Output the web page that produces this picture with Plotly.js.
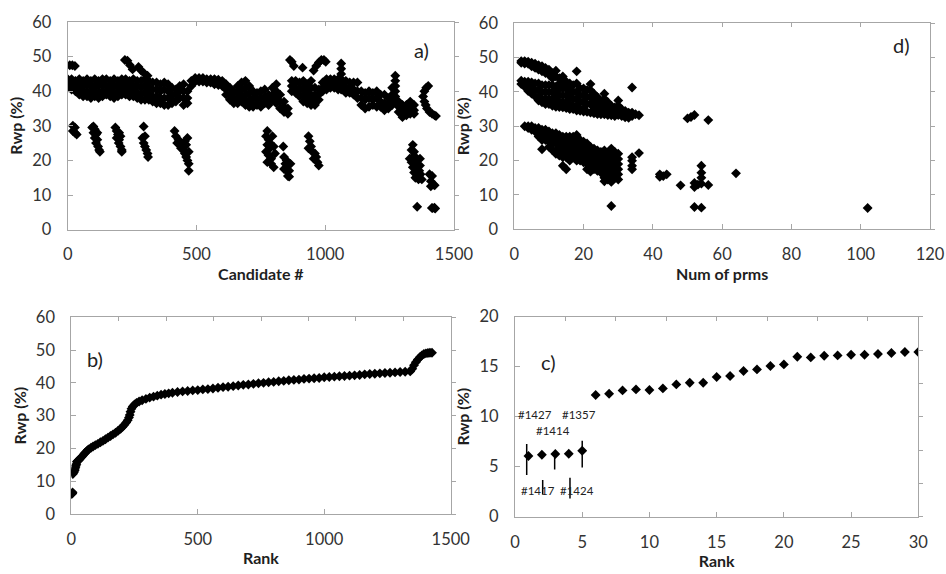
<!DOCTYPE html>
<html><head><meta charset="utf-8">
<script src="https://cdn.plot.ly/plotly-3.0.1.min.js"></script>
<style>html,body{margin:0;padding:0;background:#fff;}#chart{width:946px;height:574px;}</style>
</head><body><div id="chart"></div>
<script>
// ---------- DATA ----------
// Panel a): Rwp (%) per candidate #, grouped by candidate column: [candidate, [Rwp values]]
const candidateColsA = [
 [0,[43.5,42,41]],[8,[47.5]],[15,[43.5,42,40.5]],[18,[47.5]],[28,[47.3]],[30,[43,41.5,40]],
 [45,[43.5,42,40.5,39]],[60,[43,41.5,40,38.5]],[75,[43.5,42,40,38.5]],[90,[43,41.5,39.5,38]],
 [105,[43.5,41.5,40,38.5]],[120,[43,41.5,39.5,38]],[135,[43.5,42,40,38.5]],[150,[43.5,41.5,40,39]],
 [165,[43,41.5,40,38.5]],[180,[43.5,41.5,39.5,38]],[195,[43,41.5,40,38.5]],[210,[43.5,42,40.5,39]],
 [222,[49]],[225,[43.5,42,40.5,39]],[232,[48.8]],[240,[43,41.5,40,38.5]],[242,[47.5]],[252,[46.3]],
 [255,[43.5,41.5,40,38.5]],[270,[43,41.5,39.5,38]],[275,[47]],[285,[46,43,41,39,37.5]],[295,[45.3]],
 [300,[43.5,41.5,39.5,37.5]],[310,[44.5]],[315,[43,41,39,37.5]],[330,[42.5,40.5,38.5,37]],
 [345,[42.5,40.5,38.5,36.5]],[360,[42,40,38,36.5]],[375,[42.5,40.5,38,36]],[390,[42,40,38,36]],
 [405,[41,39,37.5,36.5]],[420,[40.5,39,37]],[435,[41.5,40,38]],[450,[42,40,38,36]],[465,[40,38,36.5]],
 [480,[43,41.5]],[495,[43.8,42.8]],[510,[43.8,42.8]],[525,[43.8,42.8]],[540,[43.5,42.5]],[555,[43.5,42.5]],
 [570,[43.5,42]],[585,[43.3,41.8]],[600,[43,41.5]],[615,[42,40.5,39]],[630,[41,39,37.5]],[645,[40,38,36.5]],
 [660,[41.5,39.5,38,36.5]],[675,[42.5,40.5,38.5,37]],[690,[43,41,39,37,36]],[705,[41.5,39.5,37.5,35.5]],
 [720,[40,38,36,35.5]],[735,[39.5,37.5,36]],[750,[40,38,36,35.5]],[765,[40.5,38.5,36.5]],[780,[39,37.5,36]],
 [795,[41,39,37.5]],[810,[42,40,38,36.5]],[825,[39,37,35]],[840,[37,35.5,34]],[855,[35,33.5]],
 [863,[49]],[870,[48.5,43,41.5,40]],[878,[47.3]],[885,[43,41,39.5]],[900,[42.5,40.5,38.5]],[912,[46.8]],
 [915,[43,41,39,37]],[930,[42,40,38,36.5]],[945,[43,41,39,37.5,36]],[955,[46]],[960,[41,39,37.5,36]],
 [965,[47.3]],[975,[48.3,40.5,39,37.5]],[985,[49]],[990,[42.5,41,40]],[995,[49]],[1002,[48.5]],
 [1005,[43.5,42,40.5]],[1020,[43.5,42,41]],[1035,[43.5,42,41]],[1050,[43.5,42,40.5]],
 [1062,[48,46.5,45,43.5,42,40.5]],[1080,[43,41,39.5]],[1095,[42.5,41,39.5]],[1110,[42.5,40.5,39]],
 [1125,[42.5,40,38]],[1140,[40,38,36]],[1155,[39.5,37.5,35]],[1170,[40,38,35.5]],[1185,[39.5,37.5,36]],
 [1200,[40,38,35.5]],[1215,[39,37,35.5]],[1230,[39,36.5,34.5]],[1245,[38,36.5,35]],[1260,[41,39,37,36]],
 [1272,[44.5,43,41.5,40,38.5,37]],[1285,[37,35.5,34]],[1300,[36,34,32.5]],[1315,[36,34.5,33]],
 [1330,[37,35,33.5]],[1345,[36,34.5,33.5]],[1380,[38.5]],[1385,[40,37]],[1390,[36]],[1392,[41]],
 [1395,[35]],[1400,[41.5]],[1405,[34]],[1415,[33.5]],[1425,[33]],[1430,[32.8]],
 // lower groups
 [20,[30,28.5]],[28,[29.5,28]],[35,[27.5]],
 [95,[29.5]],[100,[29.8,28]],[105,[29,26.5]],[110,[27.5,25]],[115,[28,26]],[118,[24]],[122,[23]],[125,[22.5]],
 [185,[29.5]],[190,[28.5,26.5]],[195,[27.5]],[198,[25]],[200,[28,26]],[205,[27,24]],[210,[23,22.5]],
 [290,[26.5]],[295,[29.8,25]],[300,[27,24]],[305,[23]],[310,[22]],[312,[21]],
 [415,[28.5]],[420,[27]],[425,[25]],[430,[26]],[435,[24.5]],[440,[23.5]],[445,[24]],[450,[23]],
 [455,[25.5,22]],[460,[24.5,21]],[465,[26.5,20]],[470,[22.5,19,17]],
 [770,[27,22.5]],[775,[28.5,24.5,19.5]],[780,[26,21.5]],[785,[25,23.5]],[790,[20.5,19]],[795,[27]],
 [800,[24,18]],[805,[22]],[837,[24]],
 [840,[21,17.5]],[845,[19]],[850,[20,17]],[855,[18.5,15.5]],[860,[17,15.3]],[865,[19]],
 [935,[27,23.5]],[940,[25.5]],[945,[24]],[950,[22.5]],[955,[20.5]],[960,[22]],[965,[21]],[970,[19.5]],[975,[18.5]],
 [1328,[20.5]],[1335,[23,19.5]],[1340,[24.5,21,18]],[1345,[22.5,19.5,16.5]],[1350,[21,18,15]],
 [1355,[20,16.5]],[1360,[18.5]],[1362,[14.5]],[1365,[17]],[1368,[20.5,18.5]],[1370,[16]],[1375,[14.5]],
 [1405,[16]],[1410,[14,12.5]],[1415,[15.5]],[1420,[13]],[1425,[12.8]],
 [1357,[6.6]],[1414,[6.27]],[1417,[6.2]],[1424,[6.3]],[1427,[6.07]]
];

// Panel d): Rwp (%) per number of parameters: [num of prms, [Rwp values]]
const prmsColsD = [
 [2,[49,48.5,43.3,42.3]],[3,[49,48.3,43,41.5,30]],[4,[48.8,48.2,43,41.5,40.3,30,29.5]],
 [5,[48.5,47.5,42.8,41,39.5,30,29]],[6,[48.2,47,42.5,40.5,38.7,29.5,28.5]],
 [7,[47.8,46.5,42.5,40.5,38.5,37.5,29.5,28,27]],[8,[47.5,46,42,40,38,37,29,27.5,26,23.3]],
 [9,[47,45.5,42,40,38,36.5,29,27.5,26]],[10,[46.5,45,42,40,38,36.5,28.5,27,25.5,24]],
 [11,[45.5,44,42,40,38,36,28,26.5,25,23]],[12,[46.2,44.5,41.5,39.5,37.5,35.7,28,26.5,25,23,22]],
 [13,[44,42.5,41,39,37,35.6,27.5,26,24.5,23,21.5]],[14,[44.5,42.5,41,39,37,35.5,27,25.5,24,22.5,21,18.5]],
 [15,[43,41,39,37,35.3,27,25.5,24,22.5,21,17.5]],[16,[42.5,40.5,38.5,36.5,35,27,25.5,24,22.5,21,20]],
 [17,[42,40,38,36,35,27,25.5,24,22.5,21]],[18,[46,42.5,40,38,36,34.6,27.5,26,24.5,23,21.5,20]],
 [19,[41,39,37,35,34.5,26,24.5,23,21.5,20]],[20,[41,39,37,35,34.3,25.5,24,22.5,21,19.5]],
 [21,[40.5,38.5,36.5,34.2,25,23.5,22,20.5,19,17.5]],[22,[42.3,40.5,38.5,36.5,34,24,22.5,21,19.5,18,16.8]],
 [23,[39.5,37.5,35.5,33.8,23.5,22,20.5,19,17.5]],[24,[38.5,36.5,34.5,33.6,23,21.5,20,18.5,17]],
 [25,[37,35.5,34,33.5,22.5,21,19.5,18,16.5]],[26,[39.5,38,36.5,35,33.5,23,21,19.5,18,16.5,15,14]],
 [27,[37,35.5,34,33.3,22,20.5,19,17.5,16,14.5]],[28,[36,34.5,33.2,23.5,22,20.5,19,17.5,16,14.5,13.8,6.8]],
 [29,[35.5,34,33,22.5,21,19.5,18,16.5,15]],[30,[37.5,36,34.5,33.3,22,20.5,19,17.5,16,14.5]],
 [31,[35,34,33]],[32,[34.5,33.5,32.6]],[33,[34,32.5]],[34,[41.3,34,33,21,20,18.5,17.5]],
 [35,[33.5]],[36,[33.2,22.2]],
 [42,[16,15.3]],[43,[15.5]],[44,[16]],[48,[12.8]],[50,[32.3]],[51,[32.7]],
 [52,[33.3,13.5,12.3,6.5]],[53,[13]],[54,[18.5,16.5,15,13.3,6.3]],[56,[31.8,12.9]],[64,[16.3]],[102,[6.2]]
];

// Panel b): sorted Rwp (%) vs rank
const rankB = [1,2,3,4,5,6,8,10,12,14,16,18,20,22,25,28,30,35,40,45,50,55,60,65,70,78,86,95,105,115,125,135,145,155,165,175,185,195,203,210,217,223,228,231,234,238,243,250,258,268,280,295,310,325,340,355,370,385,400,420,440,460,480,500,520,540,560,580,600,620,640,660,680,700,720,740,760,780,800,820,840,860,880,900,920,940,960,980,1000,1020,1040,1060,1080,1100,1120,1140,1160,1180,1200,1220,1240,1260,1280,1300,1320,1340,1348,1355,1362,1370,1378,1386,1394,1402,1410,1418,1426];
const rwpB = [6.1,6.2,6.3,6.3,6.6,12.2,12.6,12.7,13.2,13.4,14.1,14.7,15.2,15.9,16.2,16.4,16.5,16.9,17.3,17.8,18.2,18.7,19.1,19.5,19.8,20.2,20.6,21.0,21.4,21.9,22.3,22.8,23.3,23.8,24.3,24.8,25.4,26.0,26.6,27.2,27.9,28.6,29.4,30.2,31.2,32.1,32.8,33.4,33.9,34.3,34.7,35.1,35.5,35.8,36.1,36.4,36.6,36.8,37.0,37.2,37.4,37.5,37.7,37.8,38.0,38.1,38.3,38.5,38.7,38.8,39.0,39.2,39.4,39.5,39.7,39.9,40.0,40.2,40.3,40.5,40.6,40.8,40.9,41.0,41.2,41.3,41.4,41.5,41.7,41.8,41.9,42.0,42.1,42.2,42.3,42.4,42.6,42.7,42.8,42.9,43.0,43.1,43.2,43.3,43.4,43.5,44.3,45.4,46.3,47.1,47.8,48.4,48.8,49.0,49.1,49.2,49.2];

// Panel c): the 30 best ranks
const rankC = [1,2,3,4,5,6,7,8,9,10,11,12,13,14,15,16,17,18,19,20,21,22,23,24,25,26,27,28,29,30];
const rwpC = [6.07,6.2,6.27,6.3,6.6,12.17,12.3,12.63,12.73,12.67,12.83,13.23,13.4,13.4,13.97,14.07,14.57,14.73,15.07,15.23,16.0,15.93,16.1,16.13,16.2,16.2,16.27,16.37,16.47,16.47];
// vertical bars in panel c: x, lower end, upper end
const barX  = [0.87, 2.06, 2.95, 4.09, 5.0];
const barLo = [4.17, 2.23, 4.73, 1.83, 4.93];
const barHi = [7.27, 3.67, 6.5, 3.9, 7.6];
// candidate labels in panel c
const labelText = ['#1427','#1414','#1357','#1417','#1424'];
const labelX = [1.49, 2.85, 4.79, 1.69, 4.64];
const labelY = [10.27, 8.67, 10.27, 2.67, 2.67];

// ---------- BUILD ----------
function flatten(cols){ const x=[],y=[]; cols.forEach(c=>c[1].forEach(v=>{x.push(c[0]);y.push(v);})); return {x,y}; }
const A = flatten(candidateColsA);
const D = flatten(prmsColsD);

const W=946,H=574;
const boxes = {a:[67.7,22,454,229.6], d:[514.3,23.3,930,229.3], b:[71.3,317.3,450.7,514], c:[515,316.7,918.3,516.7]};
function dom(bx){ return {x:[bx[0]/W, bx[2]/W], y:[1-bx[3]/H, 1-bx[1]/H]}; }

const AX='#a6a6a6';
const FONT='Lato, Carlito, sans-serif';
const tickFont={family:FONT,size:16.5,color:'#333'};
const titleFont={family:FONT,size:16,color:'#1e1e1e',weight:'bold'};
const mk={symbol:'diamond',size:7.6,color:'#000',line:{width:0}};

function mainX(d,anchor,range,dtick,title){return {domain:d.x,anchor,range,dtick,tick0:0,ticks:'inside',ticklen:5,tickcolor:AX,showline:true,linecolor:AX,linewidth:1,showgrid:false,zeroline:false,tickfont:tickFont,ticklabelstandoff:10,title:{text:title,font:titleFont,standoff:5},fixedrange:true};}
function mainY(d,anchor,range,dtick,title){return {domain:d.y,anchor,range,dtick,tick0:0,ticks:'inside',ticklen:5,tickcolor:AX,showline:true,linecolor:AX,linewidth:1,showgrid:false,zeroline:false,tickfont:tickFont,ticklabelstandoff:12,title:{text:title,font:titleFont,standoff:5},fixedrange:true};}
function topX(d,base,anchor,range,dtick){return {domain:d.x,overlaying:base,anchor,side:'top',range,dtick,tick0:0,ticks:'inside',ticklen:4,tickcolor:AX,showline:true,linecolor:AX,linewidth:1,showticklabels:false,showgrid:false,zeroline:false,fixedrange:true};}
function rightY(d,base,anchor,range,dtick){return {domain:d.y,overlaying:base,anchor,side:'right',range,dtick,tick0:0,ticks:'outside',ticklen:4,tickcolor:AX,showline:true,linecolor:AX,linewidth:1,showticklabels:false,showgrid:false,zeroline:false,fixedrange:true};}

const da=dom(boxes.a), dd=dom(boxes.d), db=dom(boxes.b), dc=dom(boxes.c);

const barXs=[],barYs=[];
barX.forEach((x,i)=>{barXs.push(x,x,null);barYs.push(barLo[i],barHi[i],null);});

const traces=[
 {type:'scatter',mode:'markers',x:A.x,y:A.y,xaxis:'x',yaxis:'y',marker:mk,hoverinfo:'x+y'},
 {type:'scatter',mode:'markers',x:D.x,y:D.y,xaxis:'x2',yaxis:'y2',marker:mk,hoverinfo:'x+y'},
 {type:'scatter',mode:'markers',x:rankB,y:rwpB,xaxis:'x3',yaxis:'y3',marker:mk,hoverinfo:'x+y'},
 {type:'scatter',mode:'lines',x:barXs,y:barYs,xaxis:'x4',yaxis:'y4',line:{color:'#000',width:1.5},hoverinfo:'skip'},
 {type:'scatter',mode:'markers',x:rankC,y:rwpC,xaxis:'x4',yaxis:'y4',marker:mk,hoverinfo:'x+y'}
];
// helper traces so the top and right frame axes exist
[['x5','y'],['x6','y2'],['x7','y3'],['x8','y4'],['x','y5'],['x2','y6'],['x3','y7'],['x4','y8']].forEach(p=>{
 traces.push({type:'scatter',mode:'markers',x:[],y:[],xaxis:p[0],yaxis:p[1],hoverinfo:'skip'});
});

const ann=[];
const panelLbl=[['a)',421.7,49.5],['d)',901.7,45],['b)',94.7,359],['c)',548.3,361.7]];
panelLbl.forEach(p=>ann.push({text:p[0],xref:'paper',yref:'paper',x:p[1]/W,y:1-p[2]/H,xanchor:'center',yanchor:'middle',showarrow:false,font:{family:FONT,size:20,color:'#222'}}));
labelText.forEach((t,i)=>ann.push({text:t,xref:'x4',yref:'y4',x:labelX[i],y:labelY[i],xanchor:'center',yanchor:'middle',showarrow:false,font:{family:FONT,size:11.5,color:'#222'}}));

const layout={
 width:W,height:H,margin:{l:0,r:0,t:0,b:0},paper_bgcolor:'#fff',plot_bgcolor:'rgba(0,0,0,0)',showlegend:false,
 font:{family:FONT},
 xaxis:mainX(da,'y',[0,1500],500,'Candidate #'), yaxis:mainY(da,'x',[0,60],10,'Rwp (%)'),
 xaxis2:mainX(dd,'y2',[0,120],20,'Num of prms'), yaxis2:mainY(dd,'x2',[0,60],10,'Rwp (%)'),
 xaxis3:mainX(db,'y3',[0,1500],500,'Rank'), yaxis3:mainY(db,'x3',[0,60],10,'Rwp (%)'),
 xaxis4:mainX(dc,'y4',[0,30],5,'Rank'), yaxis4:mainY(dc,'x4',[0,20],5,'Rwp (%)'),
 xaxis5:topX(da,'x','y',[0,1500],500), xaxis6:topX(dd,'x2','y2',[0,120],20),
 xaxis7:topX(db,'x3','y3',[0,8],1), xaxis8:topX(dc,'x4','y4',[0,8],1),
 yaxis5:rightY(da,'y','x',[0,60],10), yaxis6:rightY(dd,'y2','x2',[0,60],10),
 yaxis7:rightY(db,'y3','x3',[0,60],10), yaxis8:rightY(dc,'y4','x4',[0,6],1),
 annotations:ann
};
Plotly.newPlot('chart',traces,layout,{displayModeBar:false,staticPlot:true});
</script></body></html>
